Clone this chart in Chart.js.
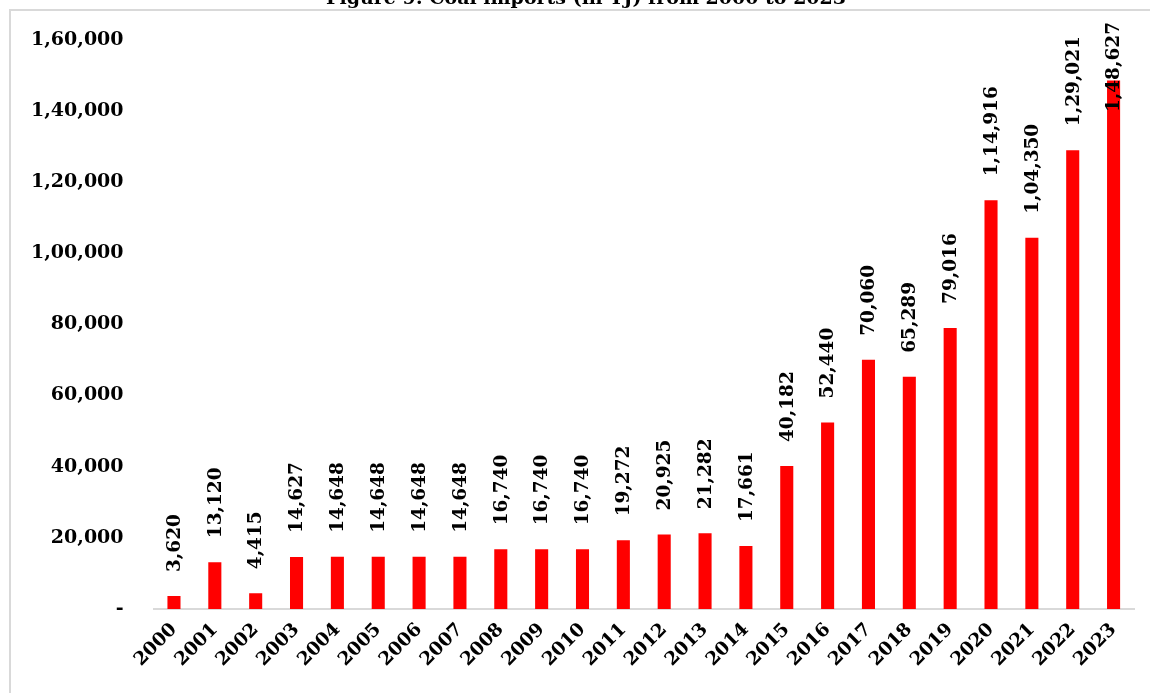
<!DOCTYPE html>
<html>
<head>
<meta charset="utf-8">
<title>Coal imports</title>
<script src="https://cdn.jsdelivr.net/npm/chart.js@4.4.1/dist/chart.umd.min.js"></script>
<style>
    html, body { margin: 0; padding: 0; background: #ffffff; }
    #wrap { position: relative; width: 1150px; height: 693px; }
</style>
</head>
<body>
<div id="wrap"><canvas id="coalChart" width="1150" height="693"></canvas></div>
<script>
const titleText = 'Figure 9: Coal imports (in TJ) from 2000 to 2023';
const years = ['2000','2001','2002','2003','2004','2005','2006','2007','2008','2009','2010','2011',
               '2012','2013','2014','2015','2016','2017','2018','2019','2020','2021','2022','2023'];
const imports = [3620, 13120, 4415, 14627, 14648, 14648, 14648, 14648, 16740, 16740, 16740, 19272,
                 20925, 21282, 17661, 40182, 52440, 70060, 65289, 79016, 114916, 104350, 129021, 148627];
const yMax = 160000;
const yStep = 20000;

const SERIF = '"DejaVu Serif", "Liberation Serif", serif';

// lakh-style grouping: 1,48,627
function fmtIN(n) {
    const s = String(Math.round(n));
    if (s.length <= 3) return s;
    const last3 = s.slice(-3);
    const rest = s.slice(0, -3).replace(/\B(?=(\d{2})+(?!\d))/g, ',');
    return rest + ',' + last3;
}

// frame lines and the title above them
const framePlugin = {
    id: 'frame',
    afterDraw(chart) {
        const ctx = chart.ctx;
        ctx.save();
        ctx.strokeStyle = '#d9d9d9';
        ctx.lineWidth = 2;
        ctx.beginPath();
        ctx.moveTo(10, 693);
        ctx.lineTo(10, 10);
        ctx.lineTo(1150, 10);
        ctx.stroke();
        ctx.fillStyle = '#000000';
        ctx.font = 'bold 19px ' + SERIF;
        ctx.textAlign = 'center';
        ctx.textBaseline = 'alphabetic';
        ctx.fillText(titleText, 586, 4);
        ctx.restore();
    }
};

// vertical value labels above each bar
const barLabels = {
    id: 'barLabels',
    afterDatasetsDraw(chart) {
        const ctx = chart.ctx;
        const meta = chart.getDatasetMeta(0);
        ctx.save();
        ctx.fillStyle = '#000000';
        ctx.font = 'bold 18.5px ' + SERIF;
        ctx.textAlign = 'left';
        ctx.textBaseline = 'middle';
        meta.data.forEach((bar, i) => {
            const txt = fmtIN(imports[i]);
            const w = ctx.measureText(txt).width;
            let bottom = bar.y - 24;
            if (bottom - w < 22) bottom = 22 + w;
            ctx.save();
            ctx.translate(bar.x + 1, bottom);
            ctx.rotate(-Math.PI / 2);
            ctx.fillText(txt, 0, 0);
            ctx.restore();
        });
        ctx.restore();
    }
};

new Chart(document.getElementById('coalChart').getContext('2d'), {
    type: 'bar',
    data: {
        labels: years,
        datasets: [{
            data: imports,
            backgroundColor: '#ff0000',
            borderWidth: 0,
            barPercentage: 0.32,
            categoryPercentage: 1.0
        }]
    },
    options: {
        responsive: false,
        animation: false,
        layout: { padding: { top: 40, right: 16, bottom: 20, left: 9 } },
        plugins: {
            legend: { display: false },
            tooltip: { enabled: false }
        },
        scales: {
            x: {
                grid: { display: false },
                border: { display: true, color: '#d9d9d9', width: 2 },
                ticks: {
                    color: '#000000',
                    font: { family: SERIF, size: 18.5, weight: 'bold' },
                    minRotation: 45,
                    maxRotation: 45,
                    padding: 2,
                    autoSkip: false
                }
            },
            y: {
                min: 0,
                max: yMax,
                grid: { display: false },
                border: { display: false },
                ticks: {
                    stepSize: yStep,
                    color: '#000000',
                    font: { family: SERIF, size: 19, weight: 'bold' },
                    padding: 22,
                    callback: (v) => v === 0 ? '-' : fmtIN(v)
                }
            }
        }
    },
    plugins: [framePlugin, barLabels]
});
</script>
</body>
</html>
